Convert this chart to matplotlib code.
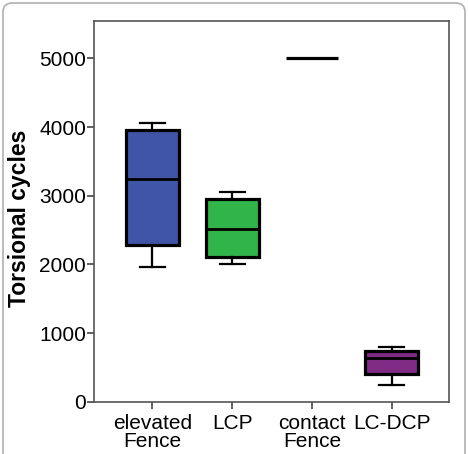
import matplotlib.pyplot as plt
from matplotlib.patches import FancyBboxPatch

plt.rcParams['font.family'] = ['Liberation Sans', 'DejaVu Sans']

# groups and box statistics
groups = ["elevated\nFence", "LCP", "contact\nFence", "LC-DCP"]
whislo = [1968, 2012, 5000, 239]
q1 = [2284, 2105, 5000, 408]
med = [3242, 2522, 5000, 633]
q3 = [3965, 2955, 5000, 744]
whishi = [4058, 3052, 5000, 793]
colors = ["#4055a8", "#31b44a", "#ffffff", "#7f2a85"]

stats = []
for i in range(len(groups)):
    stats.append(dict(whislo=whislo[i], q1=q1[i], med=med[i], q3=q3[i],
                      whishi=whishi[i], fliers=[], label=groups[i]))

fig = plt.figure(figsize=(4.68, 4.54), dpi=100)
ax = fig.add_axes([94.3 / 468, 1 - 401.7 / 454, 355 / 468, 381 / 454])

bp = ax.bxp(stats, positions=[1, 2, 3, 4], widths=0.66, patch_artist=True,
            showfliers=False,
            boxprops=dict(linewidth=2.3, edgecolor="black"),
            medianprops=dict(color="black", linewidth=2.0),
            whiskerprops=dict(color="black", linewidth=1.6),
            capprops=dict(color="black", linewidth=1.6),
            capwidths=0.31)
for patch, c in zip(bp["boxes"], colors):
    patch.set_facecolor(c)
# contact fence: all values equal, just a line
bp["boxes"][2].set_visible(False)
for cap in bp["caps"][4:6]:
    cap.set_visible(False)
bp["medians"][2].set_linewidth(2.3)

ax.set_xlim(0.273, 4.72)
ax.set_ylim(0, 5550)
ax.set_yticks([0, 1000, 2000, 3000, 4000, 5000])
ax.tick_params(axis="both", labelsize=15, length=5, width=1.2, color="#444444",
               direction="out")
ax.tick_params(axis="y", pad=1)
ax.tick_params(axis="x", pad=4)
for lbl in ax.get_xticklabels():
    lbl.set_linespacing(0.95)
for s in ax.spines.values():
    s.set_color("#555555")
    s.set_linewidth(1.2)
ax.set_ylabel("Torsional cycles", fontsize=16.5, fontweight="bold")
ax.yaxis.set_label_coords(-0.178, 0.482)

# rounded outer frame
frame = FancyBboxPatch((3 / 468, -0.05), 462 / 468, 1 - 3 / 454 + 0.05,
                       boxstyle="round,pad=0,rounding_size=0.02",
                       transform=fig.transFigure, facecolor="none",
                       edgecolor="#b0b0b0", linewidth=1.2)
fig.patches.append(frame)

fig.savefig("out.png", dpi=100)
